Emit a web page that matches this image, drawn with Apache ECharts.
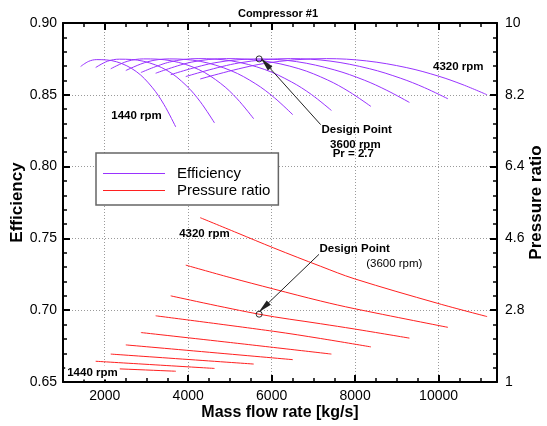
<!DOCTYPE html>
<html>
<head>
<meta charset="utf-8">
<script src="https://cdn.jsdelivr.net/npm/echarts@6/dist/echarts.min.js"></script>
<style>
  html, body { margin: 0; padding: 0; background: #fff; }
  #chart { width: 547px; height: 426px; }
</style>
</head>
<body>
<div id="chart"></div>
<script>
// Compressor #1 performance map: efficiency and pressure ratio vs. mass flow
const speedsRpm = [1440, 1800, 2160, 2520, 2880, 3240, 3600, 3960, 4320];

// efficiency lines, [mass flow kg/s, efficiency]
const eff1440 = [[1422, 0.8697], [1616, 0.8733], [1810, 0.8745], [2283, 0.8730], [2756, 0.8662], [3134, 0.8553], [3418, 0.8433], [3702, 0.8276]];
const eff1800 = [[1783, 0.8690], [2068, 0.8734], [2353, 0.8748], [2923, 0.8734], [3492, 0.8670], [3948, 0.8566], [4289, 0.8452], [4631, 0.8304]];
const eff2160 = [[2144, 0.8681], [2538, 0.8733], [2932, 0.8750], [3592, 0.8737], [4251, 0.8676], [4779, 0.8579], [5174, 0.8472], [5570, 0.8333]];
const eff2520 = [[2505, 0.8669], [3025, 0.8730], [3546, 0.8750], [4287, 0.8733], [5027, 0.8668], [5619, 0.8576], [6064, 0.8480], [6508, 0.8361]];
const eff2880 = [[2867, 0.8655], [3552, 0.8728], [4237, 0.8752], [5036, 0.8736], [5835, 0.8676], [6474, 0.8590], [6953, 0.8502], [7432, 0.8391]];
const eff3240 = [[3220, 0.8650], [4071, 0.8727], [4922, 0.8752], [5786, 0.8737], [6651, 0.8682], [7342, 0.8603], [7860, 0.8521], [8379, 0.8419]];
const eff3600 = [[3581, 0.8640], [4639, 0.8723], [5697, 0.8750], [6598, 0.8731], [7499, 0.8674], [8220, 0.8602], [8760, 0.8531], [9301, 0.8447]];
const eff3960 = [[3942, 0.8627], [5199, 0.8721], [6455, 0.8752], [7398, 0.8735], [8340, 0.8682], [9094, 0.8615], [9660, 0.8550], [10225, 0.8472]];
const eff4320 = [[4287, 0.8610], [5800, 0.8717], [7312, 0.8752], [8275, 0.8736], [9238, 0.8689], [10008, 0.8629], [10585, 0.8570], [11163, 0.8500]];
const efficiencyCurves = [eff1440, eff1800, eff2160, eff2520, eff2880, eff3240, eff3600, eff3960, eff4320];

// pressure ratio lines, [mass flow kg/s, pressure ratio]
const pr1440 = [[1422, 1.37], [3702, 1.27]];
const pr1800 = [[1783, 1.52], [4631, 1.34]];
const pr2160 = [[2144, 1.70], [5570, 1.45]];
const pr2520 = [[2505, 1.93], [6508, 1.56]];
const pr2880 = [[2867, 2.24], [5009, 1.99], [7432, 1.70]];
const pr3240 = [[3220, 2.66], [6051, 2.27], [7175, 2.09], [8379, 1.88]];
const pr3600 = [[3581, 3.16], [5697, 2.70], [7175, 2.46], [7977, 2.33], [9301, 2.10]];
const pr3960 = [[3942, 3.93], [5000, 3.62], [6051, 3.33], [7175, 3.03], [7977, 2.84], [10225, 2.37]];
const pr4320 = [[4287, 5.12], [5170, 4.74], [6051, 4.36], [7175, 3.90], [7977, 3.59], [9984, 2.97], [11163, 2.64]];
const pressureCurves = [pr1440, pr1800, pr2160, pr2520, pr2880, pr3240, pr3600, pr3960, pr4320];

// design point (3600 rpm)
const designFlow = 5700;
const designEfficiency = 0.875;
const designPressure = 2.7;

// axis ranges and ticks
const flowRange = [1000, 11400];
const flowTicks = [2000, 4000, 6000, 8000, 10000];
const efficiencyRange = [0.65, 0.90];
const pressureRange = [1, 10];
const pressureTicks = [1, 2.8, 4.6, 6.4, 8.2, 10];

// annotation pointers: [from, to] in [flow, value]
const effPointer = [[7175, 0.8292], [5851, 0.8720]];
const prPointer = [[7134, 4.20], [5810, 2.87]];

// annotation texts and where they sit: [text, flow, value, axis (0 efficiency, 1 pressure)]
const notes = [
  ['4320 rpm', 10473, 0.8697, 0],
  ['1440 rpm', 2763, 0.8355, 0],
  ['Design Point', 8037, 0.8255, 0],
  ['3600 rpm', 8006, 0.8151, 0],
  ['Pr = 2.7', 7957, 0.8086, 0],
  ['4320 rpm', 4388, 4.72, 1],
  ['Design Point', 7989, 4.34, 1],
  ['(3600 rpm)', 8939, 3.97, 1],
  ['1440 rpm', 1706, 1.24, 1]
];

const FONT = '"Liberation Sans", Arial, Helvetica, sans-serif';
const PURPLE = '#9933ff';
const RED = '#ff2020';
const dotted = { color: '#9a9a9a', width: 1, type: [1, 2] };

const series = [];
speedsRpm.forEach((rpm, i) => {
  series.push({
    name: 'Efficiency', type: 'line', xAxisIndex: 0, yAxisIndex: 0,
    data: efficiencyCurves[i], smooth: 0.35, symbol: 'none', silent: true,
    lineStyle: { color: PURPLE, width: 1 }, itemStyle: { color: PURPLE }
  });
});
speedsRpm.forEach((rpm, i) => {
  series.push({
    name: 'Pressure ratio', type: 'line', xAxisIndex: 0, yAxisIndex: 1,
    data: pressureCurves[i], smooth: 0.35, symbol: 'none', silent: true,
    lineStyle: { color: RED, width: 1 }, itemStyle: { color: RED }
  });
});

const pointerStyle = {
  silent: true, animation: false,
  symbol: ['none', 'triangle'], symbolSize: [6, 14],
  lineStyle: { color: '#222', width: 1, type: 'solid' },
  itemStyle: { color: '#000' },
  label: { show: false }, emphasis: { disabled: true }
};
const ringStyle = { color: 'rgba(255,255,255,0)', borderColor: '#000', borderWidth: 1 };

series.push({
  name: 'design-eff', type: 'scatter', xAxisIndex: 0, yAxisIndex: 0, z: 5,
  data: [[designFlow, designEfficiency]], symbol: 'circle', symbolSize: 6, silent: true,
  itemStyle: ringStyle,
  markLine: Object.assign({}, pointerStyle, { data: [[{ coord: effPointer[0] }, { coord: effPointer[1] }]] })
});
series.push({
  name: 'design-pr', type: 'scatter', xAxisIndex: 0, yAxisIndex: 1, z: 5,
  data: [[designFlow, designPressure]], symbol: 'circle', symbolSize: 6, silent: true,
  itemStyle: ringStyle,
  markLine: Object.assign({}, pointerStyle, { data: [[{ coord: prPointer[0] }, { coord: prPointer[1] }]] })
});

const frameLine = { show: true, onZero: false, lineStyle: { color: '#000', width: 2 } };
const majorTick = { show: true, inside: true, length: 7, lineStyle: { color: '#000', width: 2 } };
const minorTickStyle = { show: true, inside: true, length: 4, lineStyle: { color: '#000', width: 1.5 } };
const tickLabel = { color: '#000', fontSize: 14, fontFamily: FONT };
const axisTitle = { fontSize: 17, fontWeight: 'bold', color: '#000', fontFamily: FONT };

const xBase = { type: 'value', min: flowRange[0], max: flowRange[1] };

const option = {
  animation: false,
  backgroundColor: '#fff',
  textStyle: { fontFamily: FONT },
  grid: { left: 63, top: 23, right: 50, bottom: 44, containLabel: false, outerBoundsMode: 'none' },
  legend: {
    data: ['Efficiency', 'Pressure ratio'],
    icon: 'rect',
    orient: 'vertical', left: 96, top: 153,
    padding: [12, 8, 6, 7],
    itemWidth: 62, itemHeight: 1.2, itemGap: 0,
    borderColor: '#666', borderWidth: 1.5, backgroundColor: '#fff',
    selectedMode: false,
    textStyle: { fontSize: 15, lineHeight: 17, color: '#000', fontFamily: FONT, padding: [0, 0, 0, 7] },
    z: 6
  },
  xAxis: [
    Object.assign({}, xBase, {
      position: 'bottom',
      name: 'Mass flow rate [kg/s]', nameLocation: 'middle', nameGap: 23, nameMoveOverlap: false,
      nameTextStyle: Object.assign({}, axisTitle, { fontSize: 16 }),
      axisLine: frameLine,
      axisTick: Object.assign({}, majorTick, { customValues: flowTicks }),
      axisLabel: Object.assign({}, tickLabel, { margin: 7, customValues: flowTicks, formatter: v => String(v) }),
      splitLine: { show: true, lineStyle: dotted }
    }),
    Object.assign({}, xBase, {
      position: 'bottom', interval: 500,
      axisLine: { show: false }, axisTick: minorTickStyle,
      axisLabel: { show: false }, splitLine: { show: false }
    }),
    Object.assign({}, xBase, {
      position: 'top',
      axisLine: frameLine,
      axisTick: Object.assign({}, majorTick, { customValues: flowTicks }),
      axisLabel: { show: false }, splitLine: { show: false }
    }),
    Object.assign({}, xBase, {
      position: 'top', interval: 500,
      axisLine: { show: false }, axisTick: minorTickStyle,
      axisLabel: { show: false }, splitLine: { show: false }
    })
  ],
  yAxis: [
    {
      type: 'value', position: 'left',
      min: efficiencyRange[0], max: efficiencyRange[1], interval: 0.05,
      name: 'Efficiency', nameLocation: 'middle', nameGap: 37, nameMoveOverlap: false,
      nameTextStyle: axisTitle,
      axisLine: frameLine, axisTick: majorTick,
      minorTick: Object.assign({}, minorTickStyle, { splitNumber: 5 }),
      axisLabel: Object.assign({}, tickLabel, { margin: 6, formatter: v => v.toFixed(2) }),
      splitLine: { show: true, lineStyle: dotted }
    },
    {
      type: 'value', position: 'right',
      min: pressureRange[0], max: pressureRange[1],
      name: 'Pressure ratio', nameLocation: 'middle', nameGap: 31, nameMoveOverlap: false,
      nameTextStyle: axisTitle,
      axisLine: { show: false }, axisTick: { show: false },
      axisLabel: Object.assign({}, tickLabel, { margin: 8, customValues: pressureTicks, formatter: v => String(v) }),
      splitLine: { show: false }
    },
    {
      type: 'value', position: 'right',
      min: efficiencyRange[0], max: efficiencyRange[1], interval: 0.05,
      axisLine: frameLine, axisTick: majorTick,
      minorTick: Object.assign({}, minorTickStyle, { splitNumber: 5 }),
      axisLabel: { show: false }, splitLine: { show: false }
    }
  ],
  series: series
};

const chart = echarts.init(document.getElementById('chart'), null, { renderer: 'canvas' });
chart.setOption(option);

// annotation text placed through the axes' own scales
const toPixel = (axis, pt) => chart.convertToPixel({ xAxisIndex: 0, yAxisIndex: axis }, pt);
const graphic = notes.map((n, i) => {
  const p = toPixel(n[3], [n[1], n[2]]);
  const plain = n[0].charAt(0) === '(';
  const boxed = i === notes.length - 1;
  return {
    type: 'text', x: p[0], y: p[1], z: 20, silent: true,
    style: {
      text: n[0], fill: '#000', align: 'center', verticalAlign: 'middle',
      font: (plain ? '' : 'bold ') + '11.5px ' + FONT,
      backgroundColor: boxed ? '#fff' : null, padding: boxed ? [1, 2] : 0
    }
  };
});
const titleX = (toPixel(0, [flowRange[0], 0.9])[0] + toPixel(0, [flowRange[1], 0.9])[0]) / 2 - 2;
graphic.push({
  type: 'text', x: titleX, y: 14, z: 20, silent: true,
  style: { text: 'Compressor #1', fill: '#000', align: 'center', verticalAlign: 'middle', font: 'bold 11px ' + FONT }
});
chart.setOption({ graphic: graphic });
</script>
</body>
</html>
